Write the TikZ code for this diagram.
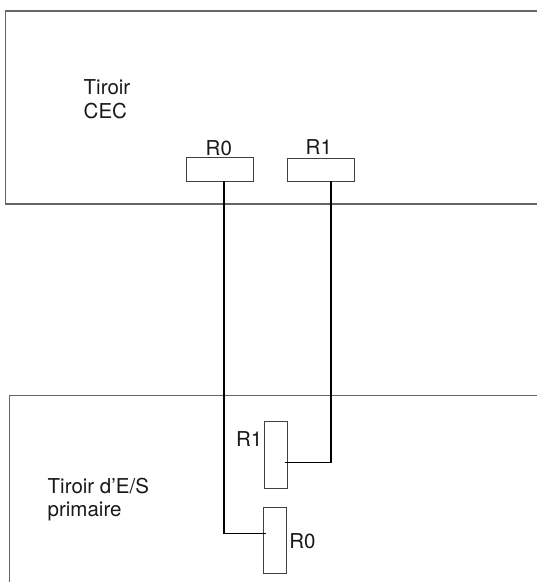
\documentclass[tikz,border=0pt]{standalone}
\usepackage{fontspec}
\setmainfont{TeX Gyre Heros}
\begin{document}
\begin{tikzpicture}[x=1pt,y=-1pt,
  frame/.style={draw=black!60, line width=1.1pt},
  port/.style={draw=black!75, line width=0.9pt, minimum width=66.6pt, minimum height=23.3pt, inner sep=0pt, outer sep=0pt},
  vport/.style={draw=black!75, line width=0.9pt, minimum width=23.2pt, minimum height=66.4pt, inner sep=0pt, outer sep=0pt},
  lbl/.style={font=\fontsize{20.5}{24}\selectfont, inner sep=0pt, text=black!90},
  wire/.style={draw=black, line width=1.6pt}]
\useasboundingbox (0,0) rectangle (537,582);
\fill[white] (0,0) rectangle (537,582);
% drawers
\draw[frame] (537,11) -- (5.7,11) -- (5.7,204) -- (537,204);
\draw[frame] (537,395.7) -- (9.3,395.7) -- (9.3,582);
% ports
\node[port] (r0top) at (220,169.3) {};
\node[port] (r1top) at (321,169.7) {};
\node[vport] (r1bot) at (275.8,455) {};
\node[vport] (r0bot) at (275,540.3) {};
% labels
\node[lbl, anchor=base] (r0toplbl) at (218.8,155) {R0};
\node[lbl, anchor=base] (r1toplbl) at (318.8,154) {R1};
\node[lbl, anchor=base east] (r1botlbl) at (262.4,446.7) {R1};
\node[lbl, anchor=base west] (r0botlbl) at (289.1,548.3) {R0};
\node[lbl, anchor=base west] (cecA) at (83.5,94.3) {Tiroir};
\node[lbl, anchor=base west] (cecB) at (83.5,118.3) {CEC};
\node[lbl, anchor=base west] (ioA) at (47.5,493.3) {Tiroir d’E/S};
\node[lbl, anchor=base west] (ioB) at (47.5,516) {primaire};
% cables
\draw[wire] ([xshift=4pt]r0top.south) |- ([xshift=2.4pt,yshift=7pt]r0bot.west);
\draw[wire] ([xshift=10pt]r1top.south) |- ([xshift=-2.5pt,yshift=-7.3pt]r1bot.east);
\end{tikzpicture}
\end{document}
